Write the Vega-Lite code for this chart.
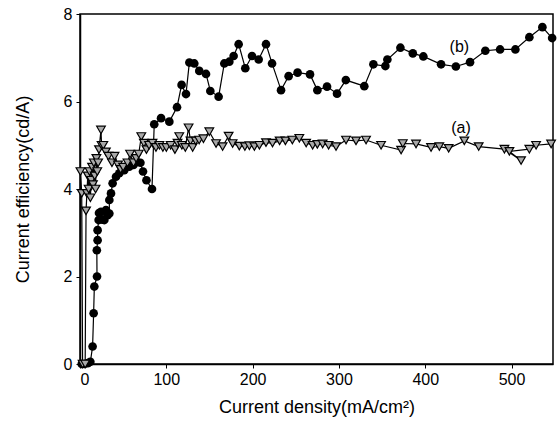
{
  "$schema": "https://vega.github.io/schema/vega-lite/v6.json",
  "width": 473,
  "height": 350,
  "autosize": {"type": "none"},
  "padding": {"left": 80, "top": 14, "right": 4, "bottom": 59},
  "background": "white",
  "config": {
    "view": {"stroke": "black", "strokeWidth": 1.5},
    "font": "Liberation Sans",
    "axis": {
      "grid": false,
      "domainColor": "black",
      "domainWidth": 1.5,
      "tickColor": "black",
      "tickSize": 4,
      "labelColor": "black",
      "labelFont": "Liberation Sans",
      "labelFontSize": 16,
      "titleFont": "Liberation Sans",
      "titleFontSize": 18,
      "titleFontWeight": "normal",
      "titleColor": "black"
    }
  },
  "datasets": {
    "b": [
      {"x": 2, "y": 0}, {"x": 5, "y": 0}, {"x": 9, "y": 0.02}, {"x": 12, "y": 0.05},
      {"x": 14.6, "y": 0.4}, {"x": 15.8, "y": 1.16}, {"x": 16.6, "y": 1.77}, {"x": 19.7, "y": 2.0},
      {"x": 19.5, "y": 2.6}, {"x": 20.4, "y": 2.83}, {"x": 20.4, "y": 3.06}, {"x": 21.6, "y": 3.29},
      {"x": 22, "y": 3.45}, {"x": 24.3, "y": 3.48}, {"x": 26, "y": 3.3}, {"x": 28.2, "y": 3.29},
      {"x": 30.1, "y": 3.52}, {"x": 32, "y": 3.4}, {"x": 34, "y": 3.44}, {"x": 34, "y": 3.75},
      {"x": 35.9, "y": 3.9}, {"x": 37.8, "y": 4.13}, {"x": 41.7, "y": 4.28}, {"x": 45.5, "y": 4.36},
      {"x": 51.3, "y": 4.43}, {"x": 57.1, "y": 4.51}, {"x": 62, "y": 4.55}, {"x": 66, "y": 4.62},
      {"x": 70, "y": 4.6}, {"x": 73, "y": 4.4}, {"x": 77, "y": 4.2}, {"x": 83.4, "y": 4.0},
      {"x": 86, "y": 5.48}, {"x": 93.9, "y": 5.62}, {"x": 103.5, "y": 5.54}, {"x": 112.4, "y": 5.87},
      {"x": 117.7, "y": 6.38}, {"x": 122.8, "y": 6.17}, {"x": 126.7, "y": 6.89}, {"x": 132.4, "y": 6.87},
      {"x": 138.2, "y": 6.7}, {"x": 146, "y": 6.63}, {"x": 151, "y": 6.24}, {"x": 160.6, "y": 6.11},
      {"x": 167.2, "y": 6.87}, {"x": 173, "y": 6.91}, {"x": 178, "y": 7.04}, {"x": 183.8, "y": 7.31},
      {"x": 191.5, "y": 6.76}, {"x": 199.3, "y": 7.04}, {"x": 207, "y": 6.96}, {"x": 215.5, "y": 7.31},
      {"x": 222.5, "y": 6.87}, {"x": 232.9, "y": 6.26}, {"x": 241.7, "y": 6.58}, {"x": 252.1, "y": 6.66},
      {"x": 266.5, "y": 6.62}, {"x": 275, "y": 6.26}, {"x": 286.2, "y": 6.34}, {"x": 297.8, "y": 6.18},
      {"x": 308, "y": 6.49}, {"x": 329.4, "y": 6.35}, {"x": 339.9, "y": 6.85}, {"x": 353.8, "y": 6.81},
      {"x": 356.1, "y": 6.96}, {"x": 371.2, "y": 7.23}, {"x": 385.6, "y": 7.1}, {"x": 397.8, "y": 7.03},
      {"x": 418.3, "y": 6.85}, {"x": 435.5, "y": 6.8}, {"x": 451.9, "y": 6.9}, {"x": 469.6, "y": 7.16},
      {"x": 486.7, "y": 7.19}, {"x": 504.4, "y": 7.19}, {"x": 520.6, "y": 7.47}, {"x": 535.7, "y": 7.7},
      {"x": 547, "y": 7.45}
    ],
    "a": [
      {"x": 0.5, "y": 4.4}, {"x": 2, "y": 3.9}, {"x": 3, "y": 0}, {"x": 6, "y": 0},
      {"x": 7, "y": 3.5}, {"x": 8, "y": 3.9}, {"x": 9, "y": 4.3}, {"x": 10, "y": 4.0},
      {"x": 11, "y": 4.4}, {"x": 12, "y": 3.8}, {"x": 13, "y": 4.2}, {"x": 14, "y": 4.5},
      {"x": 15, "y": 4.1}, {"x": 16, "y": 4.6}, {"x": 17, "y": 4.3}, {"x": 18, "y": 4.0},
      {"x": 19, "y": 4.7}, {"x": 20, "y": 4.4}, {"x": 21, "y": 4.6}, {"x": 22, "y": 4.9},
      {"x": 24.3, "y": 5.35}, {"x": 25, "y": 5.0}, {"x": 27, "y": 5.0}, {"x": 30, "y": 4.85},
      {"x": 33, "y": 4.75}, {"x": 37, "y": 4.6}, {"x": 40, "y": 4.75}, {"x": 44, "y": 4.55},
      {"x": 47, "y": 4.45}, {"x": 50, "y": 4.5}, {"x": 55, "y": 4.6}, {"x": 58, "y": 4.8},
      {"x": 62, "y": 4.6}, {"x": 65, "y": 4.7}, {"x": 68, "y": 4.8}, {"x": 71, "y": 5.2},
      {"x": 74, "y": 5.05}, {"x": 77, "y": 4.9}, {"x": 80, "y": 5.0}, {"x": 84, "y": 5.05},
      {"x": 88, "y": 4.95}, {"x": 92, "y": 5.0}, {"x": 96, "y": 4.95}, {"x": 100, "y": 4.95},
      {"x": 105, "y": 5.0}, {"x": 110, "y": 4.9}, {"x": 113, "y": 5.05}, {"x": 115, "y": 5.2},
      {"x": 118, "y": 5.0}, {"x": 122, "y": 4.95}, {"x": 125.8, "y": 5.4}, {"x": 128, "y": 5.1},
      {"x": 130.5, "y": 4.95}, {"x": 134, "y": 5.1}, {"x": 138, "y": 5.12}, {"x": 143, "y": 5.15},
      {"x": 149.8, "y": 5.31}, {"x": 157.6, "y": 5.04}, {"x": 165.2, "y": 4.97}, {"x": 172.2, "y": 5.21},
      {"x": 176.8, "y": 5.04}, {"x": 184.6, "y": 4.98}, {"x": 191, "y": 4.97}, {"x": 196.2, "y": 4.99},
      {"x": 202, "y": 4.97}, {"x": 207.8, "y": 5.0}, {"x": 215.5, "y": 5.06}, {"x": 223, "y": 5.05},
      {"x": 231.3, "y": 5.1}, {"x": 238, "y": 5.1}, {"x": 246, "y": 5.12}, {"x": 254.1, "y": 5.16},
      {"x": 262, "y": 5.05}, {"x": 269.5, "y": 5.0}, {"x": 275, "y": 5.02}, {"x": 281.1, "y": 5.03},
      {"x": 288, "y": 5.0}, {"x": 296.6, "y": 4.97}, {"x": 308.2, "y": 5.12}, {"x": 319.8, "y": 5.1},
      {"x": 331.4, "y": 5.12}, {"x": 348.8, "y": 5.0}, {"x": 372, "y": 4.89}, {"x": 374, "y": 5.04},
      {"x": 389.3, "y": 5.03}, {"x": 406.7, "y": 4.95}, {"x": 416.3, "y": 4.97}, {"x": 427.1, "y": 4.93},
      {"x": 445.3, "y": 5.1}, {"x": 461.9, "y": 4.97}, {"x": 491.7, "y": 4.91}, {"x": 511, "y": 4.65},
      {"x": 497.5, "y": 4.86}, {"x": 520.6, "y": 4.91}, {"x": 528.4, "y": 5.0}, {"x": 545.8, "y": 5.03}
    ],
    "labels": [
      {"x": 439.5, "y": 7.25, "label": "(b)"},
      {"x": 441.4, "y": 5.39, "label": "(a)"}
    ]
  },
  "encoding": {
    "x": {
      "field": "x", "type": "quantitative",
      "scale": {"domain": [0, 548], "nice": false, "zero": false},
      "axis": {"values": [0, 100, 200, 300, 400, 500], "title": "Current density(mA/cm²)", "titlePadding": 11, "labelPadding": 3}
    },
    "y": {
      "field": "y", "type": "quantitative",
      "scale": {"domain": [0, 8], "nice": false},
      "axis": {"values": [0, 2, 4, 6, 8], "title": "Current efficiency(cd/A)", "titlePadding": 31, "labelPadding": 4}
    }
  },
  "layer": [
    {"data": {"name": "b"}, "mark": {"type": "line", "color": "black", "strokeWidth": 1.2}, "encoding": {"order": {"value": null}}},
    {"data": {"name": "b"}, "mark": {"type": "point", "shape": "circle", "filled": true, "color": "black", "size": 75, "opacity": 1}},
    {"data": {"name": "a"}, "mark": {"type": "line", "color": "black", "strokeWidth": 1.2}, "encoding": {"order": {"value": null}}},
    {"data": {"name": "a"}, "mark": {"type": "point", "shape": "triangle-down", "filled": true, "fill": "#a8a8a8", "stroke": "black", "strokeWidth": 1.2, "size": 75, "opacity": 1}},
    {"data": {"name": "labels"}, "mark": {"type": "text", "font": "Liberation Sans", "fontSize": 16, "color": "black"}, "encoding": {"text": {"field": "label"}}}
  ]
}
